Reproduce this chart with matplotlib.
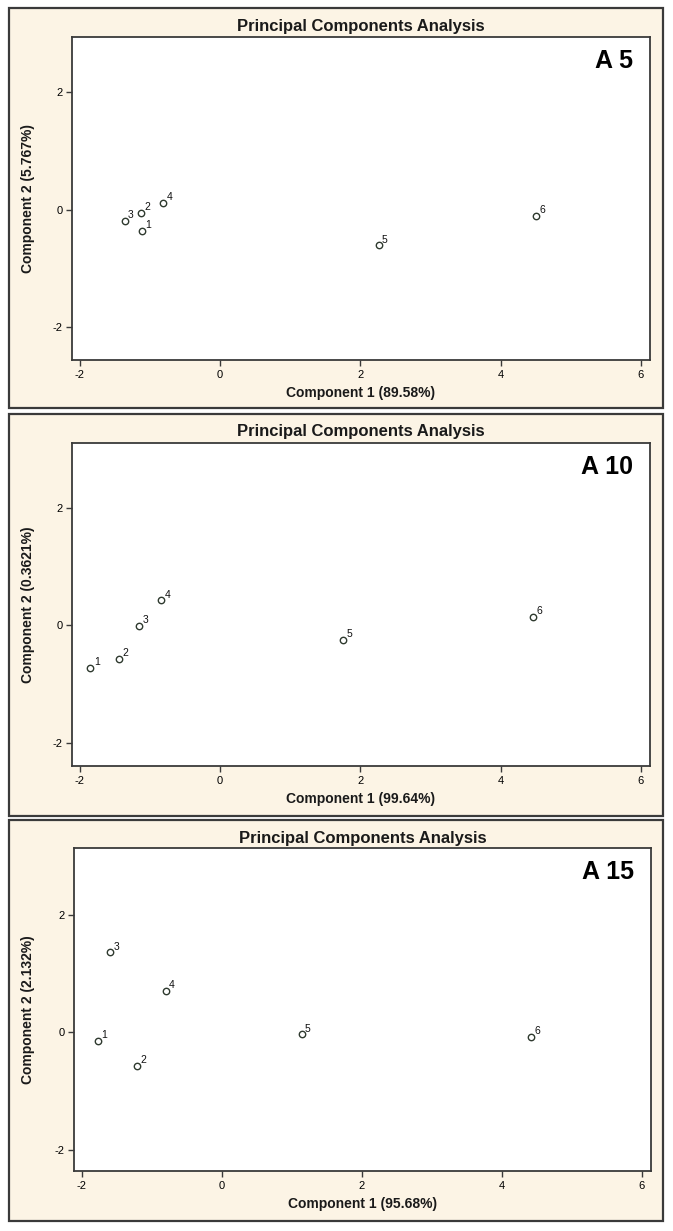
import matplotlib
matplotlib.use("Agg")
import matplotlib.pyplot as plt
from matplotlib.patches import Rectangle

plt.rcParams["axes.unicode_minus"] = False

# panel names and axis labels
panel_tags = ["A 5", "A 10", "A 15"]
x_labels = ["Component 1 (89.58%)", "Component 1 (99.64%)", "Component 1 (95.68%)"]
y_labels = ["Component 2 (5.767%)", "Component 2 (0.3621%)", "Component 2 (2.132%)"]
point_ids = ["1", "2", "3", "4", "5", "6"]

# scores
pc1_a5 = [-1.11, -1.12, -1.36, -0.81, 2.26, 4.50]
pc2_a5 = [-0.36, -0.05, -0.19, 0.12, -0.61, -0.10]
pc1_a10 = [-1.85, -1.44, -1.15, -0.84, 1.76, 4.46]
pc2_a10 = [-0.73, -0.57, -0.01, 0.42, -0.25, 0.14]
pc1_a15 = [-1.77, -1.21, -1.60, -0.80, 1.14, 4.41]
pc2_a15 = [-0.14, -0.57, 1.36, 0.71, -0.03, -0.07]

xs = [pc1_a5, pc1_a10, pc1_a15]
ys = [pc2_a5, pc2_a10, pc2_a15]

W, H = 673, 1231
fig = plt.figure(figsize=(W / 100, H / 100), dpi=100)
fig.patch.set_facecolor("white")

narrow = ["Liberation Sans Narrow", "Liberation Sans", "DejaVu Sans"]
sans = ["Liberation Sans", "DejaVu Sans"]
cream = "#FCF4E5"
edge = "#3a3a3a"

# pixel layout: outer box, axes box, y-limits
outer_px = [(9, 8, 663, 408), (9, 414, 663, 816), (9, 820, 663, 1221)]
axes_px = [(72, 37, 650, 360), (72, 443, 650, 766), (74, 848, 651, 1171)]
ylims = [(-2.56, 2.94), (-2.40, 3.10), (-2.35, 3.13)]


def fx(px):
    return px / W


def fy(py):
    return 1 - py / H


for i in range(3):
    l, t, r, b = outer_px[i]
    fig.patches.append(Rectangle((fx(l), fy(b)), fx(r) - fx(l), fy(t) - fy(b),
                                 transform=fig.transFigure, facecolor=cream,
                                 edgecolor=edge, linewidth=1.6, zorder=-5))
    al, at, ar, ab = axes_px[i]
    ax = fig.add_axes([fx(al), fy(ab), fx(ar) - fx(al), fy(at) - fy(ab)])
    ax.set_facecolor("white")
    for s in ax.spines.values():
        s.set_color(edge)
        s.set_linewidth(1.3)

    ax.plot(xs[i], ys[i], "o", ms=4.6, mfc="none", mec="#2f3a2f", mew=1.0)
    for x, y, lab in zip(xs[i], ys[i], point_ids):
        ax.annotate(lab, (x, y), xytext=(2.5, 0.5), textcoords="offset points",
                    ha="left", va="bottom", fontsize=7.5, family=sans, color="#111111")

    ax.set_xlim(-2.11, 6.13)
    ax.set_ylim(*ylims[i])
    ax.set_xticks([-2, 0, 2, 4, 6])
    ax.set_yticks([-2, 0, 2])
    ax.tick_params(length=4, width=1, color=edge, labelsize=8, pad=3)
    for lbl in ax.get_xticklabels() + ax.get_yticklabels():
        lbl.set_family(narrow)

    cx = fx((al + ar) / 2)
    fig.text(cx, fy(t + 18), "Principal Components Analysis", ha="center", va="center",
             fontsize=12, fontweight="bold", family=sans, color="#1a1a1a")
    fig.text(fx(ar - 17), fy(at + 24), panel_tags[i], ha="right", va="center",
             fontsize=18, fontweight="bold", family=sans, color="black")
    fig.text(cx, fy(ab + 33), x_labels[i], ha="center", va="center",
             fontsize=10, fontweight="bold", family=narrow, color="#1a1a1a")
    fig.text(fx(28), fy((at + ab) / 2), y_labels[i], ha="center", va="center",
             rotation=90, fontsize=10, fontweight="bold", family=narrow, color="#1a1a1a")

fig.savefig("out.png", dpi=100)
